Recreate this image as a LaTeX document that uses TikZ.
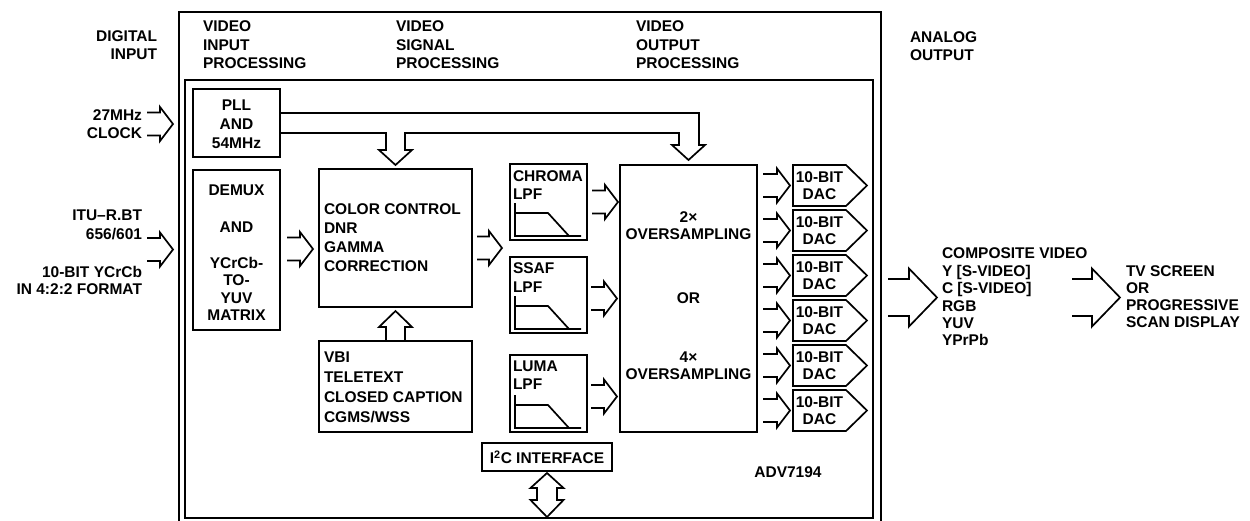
\documentclass[tikz,border=0pt]{standalone}
\usepackage{fontspec}
\setmainfont{Liberation Sans}
\usetikzlibrary{calc}
\newcommand{\fsz}[1]{\fontsize{15.5}{#1}\selectfont\bfseries}
\begin{document}
\begin{tikzpicture}[x=1pt,y=-1pt,line width=1.7pt,line join=miter,
  txt/.style={inner sep=0pt,outer sep=0pt,font=\fsz{17.5}},
  box/.style={draw,inner sep=0pt,outer sep=0pt,anchor=north west},
  pics/busr/.style={code={\draw (0,-11.5) -- (#1,-11.5) -- (#1,-17) -- ({#1+13},0) -- (#1,17) -- (#1,11.5) -- (0,11.5);}},
  pics/bigbus/.style={code={\draw (0,-18.5) -- (#1,-18.5) -- (#1,-29) -- ({#1+28},0) -- (#1,29) -- (#1,18.5) -- (0,18.5);}},
  pics/lpf/.style={code={\draw (5,-37) -- (5,-4) -- (71,-4) (5,-27) -- (38,-27) -- (59,-4);}},
]
\useasboundingbox (0,0) rectangle (1250,520);
% frames
\node[box,minimum width=702pt,minimum height=512pt] (outer) at (179,12) {};
\node[box,minimum width=688pt,minimum height=438pt] (inner) at (185,80) {};
% headers
\node[txt,align=right,anchor=north east,font=\fsz{18}] (hdig) at (157,31) {DIGITAL\\INPUT};
\node[txt,align=left,anchor=north west,font=\fsz{18.3}] (hvip) at (203,21) {VIDEO\\INPUT\\PROCESSING};
\node[txt,align=left,anchor=north west,font=\fsz{18.3}] (hvsp) at (396,21) {VIDEO\\SIGNAL\\PROCESSING};
\node[txt,align=left,anchor=north west,font=\fsz{18.3}] (hvop) at (636,21) {VIDEO\\OUTPUT\\PROCESSING};
\node[txt,align=left,anchor=north west,font=\fsz{18}] (hana) at (910,32) {ANALOG\\OUTPUT};
% input labels
\node[txt,align=right,anchor=north east] (clk) at (142,110) {27MHz\\CLOCK};
\node[txt,align=right,anchor=north east,font=\fsz{19}] (itu) at (142,210) {ITU–R.BT\\656/601};
\node[txt,align=right,anchor=north east,font=\fsz{17}] (ycc) at (142,266) {10-BIT YCrCb\\IN 4:2:2 FORMAT};
% blocks
\node[box,minimum width=87pt,minimum height=68pt] (pll) at (193,89) {};
\node[txt,align=center,anchor=north,font=\fsz{19}] (pllt) at (236.5,100) {PLL\\AND\\54MHz};
\node[box,minimum width=87pt,minimum height=160pt] (demux) at (193,170) {};
\node[txt,align=center,anchor=north] (demuxt) at (236.5,185) {DEMUX\\[19pt]AND\\[18.5pt]YCrCb-\\TO-\\YUV\\MATRIX};
\node[box,minimum width=153pt,minimum height=138pt] (color) at (319,169) {};
\node[txt,align=left,anchor=north west,font=\fsz{19}] (colort) at (324,204) {COLOR CONTROL\\DNR\\GAMMA\\CORRECTION};
\node[box,minimum width=153pt,minimum height=91pt] (vbi) at (319,341) {};
\node[txt,align=left,anchor=north west,font=\fsz{20}] (vbit) at (324,352) {VBI\\TELETEXT\\CLOSED CAPTION\\CGMS/WSS};
\node[box,minimum width=77pt,minimum height=76pt] (chroma) at (510,164) {};
\node[txt,align=left,anchor=north west] (chromat) at (513,171) {CHROMA\\LPF};
\pic at (chroma.south west) {lpf};
\node[box,minimum width=77pt,minimum height=76pt] (ssaf) at (510,257) {};
\node[txt,align=left,anchor=north west,font=\fsz{19}] (ssaft) at (513,263) {SSAF\\LPF};
\pic at (ssaf.south west) {lpf};
\node[box,minimum width=77pt,minimum height=77pt] (luma) at (510,355) {};
\node[txt,align=left,anchor=north west] (lumat) at (513,361) {LUMA\\LPF};
\pic at (luma.south west) {lpf};
\node[box,minimum width=137pt,minimum height=267pt] (over) at (620,165) {};
\node[txt,align=center,anchor=north,font=\fsz{17}] (os2) at (688.5,212) {2×\\OVERSAMPLING};
\node[txt,anchor=north] (ort) at (688.5,293) {OR};
\node[txt,align=center,anchor=north,font=\fsz{16.5}] (os4) at (688.5,352) {4×\\OVERSAMPLING};
\node[box,minimum width=130pt,minimum height=28pt,font=\fsz{17.5}] (i2c) at (482,443) {I\textsuperscript{2}C INTERFACE};
\node[txt] (chip) at (788,472) {ADV7194};
% DACs
\foreach \i/\t in {1/165,2/210,3/255,4/300,5/345,6/390} {
  \node[txt,align=center,minimum width=53pt,minimum height=41pt,anchor=north west] (dac\i) at (793,\t) {10-BIT\\DAC};
  \draw (dac\i.north west) -- (dac\i.north east) -- ($(dac\i.east)+(21,0)$) -- (dac\i.south east) -- (dac\i.south west) -- cycle;
  \pic at ($(dac\i.west)+(-30,0)$) {busr=14};
}
% PLL clock distribution
\draw ($(pll.north east)+(0,24)$) -- (699,113) -- (699,145) -- (705,145) -- (688.5,160) -- (672,145) -- (679,145) -- (679,133) -- (405,133) -- (405,150) -- (412,150) -- (395.5,165) -- (379,150) -- (386,150) -- (386,133) -- ($(pll.north east)+(0,44)$);
% VBI -> color control
\draw (386,341) -- (386,327) -- (379,327) -- (395.5,311) -- (412,327) -- (405,327) -- (405,341);
% I2C bidirectional
\draw (547,473) -- (563.5,488) -- (557,488) -- (557,500) -- (563.5,500) -- (547,517) -- (530.5,500) -- (537,500) -- (537,488) -- (530.5,488) -- cycle;
% bus arrows
\pic at (147,124) {busr=13};
\pic at (147,249.5) {busr=13};
\pic at ($(demux.east)+(7,-1)$) {busr=13};
\pic at (477,248) {busr=12};
\pic at (592,202) {busr=13};
\pic at (591,298.5) {busr=13};
\pic at (591,396.5) {busr=13};
% analog outputs
\pic at (888,297.5) {bigbus=21};
\node[txt,align=left,anchor=north west,font=\fsz{17.4}] (outs) at (942,248) {COMPOSITE VIDEO\\Y [S-VIDEO]\\C [S-VIDEO]\\RGB\\YUV\\YPrPb};
\pic at (1072,297.5) {bigbus=20};
\node[txt,align=left,anchor=north west,font=\fsz{17}] (tv) at (1126,266) {TV SCREEN\\OR\\PROGRESSIVE\\SCAN DISPLAY};
\end{tikzpicture}
\end{document}
